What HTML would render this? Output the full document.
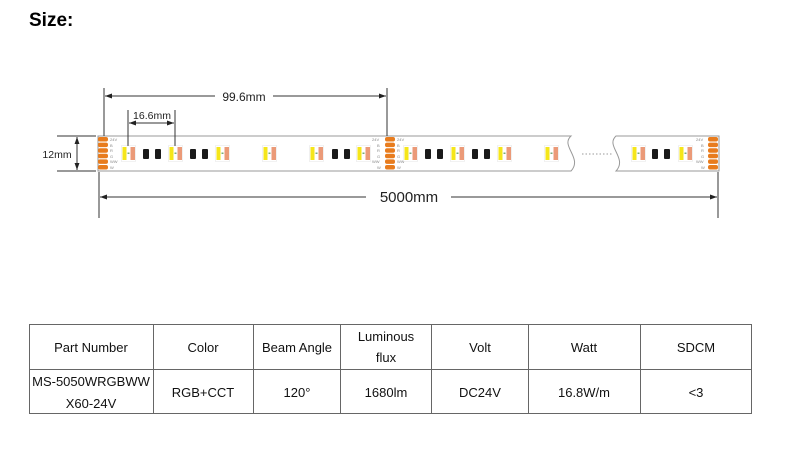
<!DOCTYPE html>
<html><head><meta charset="utf-8"><style>
html,body{margin:0;padding:0;background:#fff;}
svg{display:block;font-family:"Liberation Sans",Arial,sans-serif;}
</style></head><body>
<svg width="797" height="452" viewBox="0 0 797 452" xmlns="http://www.w3.org/2000/svg">
<defs>
<marker id="ar" viewBox="0 0 10 10" refX="10" refY="5" markerWidth="7" markerHeight="7" orient="auto-start-reverse"><path d="M0,1.5 L10,5 L0,8.5 z" fill="#222"/></marker>
<g id="led">
<rect x="-0.5" y="-0.5" width="14" height="16" fill="#fff" stroke="#ccc" stroke-width="0.6" stroke-dasharray="1,1"/>
<rect x="0.5" y="1" width="4" height="13" fill="#f5e61a"/>
<rect x="8.5" y="1" width="4.5" height="13" fill="#eb9a78"/>
<rect x="5.5" y="6.5" width="2" height="1.5" fill="#7a7"/>
</g>
<g id="blk"><rect x="0" y="3" width="6" height="10" rx="1" fill="#1a1a1a"/></g>
<g id="pads">
<rect x="0" y="137" width="10" height="4.5" rx="2" fill="#e87c1e"/>
<rect x="0" y="142.6" width="10" height="4.5" rx="2" fill="#e87c1e"/>
<rect x="0" y="148.2" width="10" height="4.5" rx="2" fill="#e87c1e"/>
<rect x="0" y="153.8" width="10" height="4.5" rx="2" fill="#e87c1e"/>
<rect x="0" y="159.4" width="10" height="4.5" rx="2" fill="#e87c1e"/>
<rect x="0" y="165" width="10" height="4.5" rx="2" fill="#e87c1e"/>
</g>
</defs>

<text x="29" y="26" font-size="19" font-weight="bold" fill="#000">Size:</text>

<path d="M98,136 L571,136 C560,146 583,158 571,171 L98,171 Z" fill="#fff" stroke="#999" stroke-width="1"/>
<path d="M719,136 L616,136 C605,146 628,158 616,171 L719,171 Z" fill="#fff" stroke="#999" stroke-width="1"/>
<line x1="582" y1="154" x2="612" y2="154" stroke="#999" stroke-dasharray="1.5,2"/>

<use href="#pads" x="98"/>
<use href="#pads" x="385"/>
<use href="#pads" x="708"/>
<g font-size="4" fill="#888">
<text x="110" y="141">24V</text><text x="110" y="147">B</text><text x="110" y="152">R</text><text x="110" y="158">G</text><text x="110" y="163">WW</text><text x="110" y="169">W</text>
<text x="397" y="141">24V</text><text x="397" y="147">B</text><text x="397" y="152">R</text><text x="397" y="158">G</text><text x="397" y="163">WW</text><text x="397" y="169">W</text>
<text x="372" y="141">24V</text><text x="377" y="147">B</text><text x="377" y="152">R</text><text x="377" y="158">G</text><text x="372" y="163">WW</text><text x="377" y="169">W</text>
<text x="696" y="141">24V</text><text x="701" y="147">B</text><text x="701" y="152">R</text><text x="701" y="158">G</text><text x="696" y="163">WW</text><text x="701" y="169">W</text>
</g>

<g transform="translate(0,146)">
<use href="#led" x="122"/><use href="#blk" x="143"/><use href="#blk" x="155"/>
<use href="#led" x="169"/><use href="#blk" x="190"/><use href="#blk" x="202"/>
<use href="#led" x="216"/>
<use href="#led" x="263"/>
<use href="#led" x="310"/><use href="#blk" x="332"/><use href="#blk" x="344"/>
<use href="#led" x="357"/>
<use href="#led" x="404"/><use href="#blk" x="425"/><use href="#blk" x="437"/>
<use href="#led" x="451"/><use href="#blk" x="472"/><use href="#blk" x="484"/>
<use href="#led" x="498"/>
<use href="#led" x="545"/>
<use href="#led" x="632"/><use href="#blk" x="652"/><use href="#blk" x="664"/>
<use href="#led" x="679"/>
</g>

<g stroke="#333" stroke-width="1" fill="none">
<line x1="104" y1="88" x2="104" y2="136"/>
<line x1="387" y1="88" x2="387" y2="136"/>
<line x1="105" y1="96" x2="215" y2="96" marker-start="url(#ar)"/>
<line x1="273" y1="96" x2="386" y2="96" marker-end="url(#ar)"/>
<line x1="128" y1="110" x2="128" y2="146"/>
<line x1="175" y1="110" x2="175" y2="146"/>
<line x1="129" y1="123" x2="174" y2="123" marker-start="url(#ar)" marker-end="url(#ar)"/>
<line x1="57" y1="136" x2="96" y2="136"/>
<line x1="57" y1="171" x2="96" y2="171"/>
<line x1="77" y1="137" x2="77" y2="170" marker-start="url(#ar)" marker-end="url(#ar)"/>
<line x1="99" y1="172" x2="99" y2="218"/>
<line x1="718" y1="172" x2="718" y2="218"/>
<line x1="100" y1="197" x2="366" y2="197" marker-start="url(#ar)"/>
<line x1="451" y1="197" x2="717" y2="197" marker-end="url(#ar)"/>
</g>
<g fill="#222">
<text x="244" y="101" font-size="12" text-anchor="middle">99.6mm</text>
<text x="152" y="119" font-size="10.5" text-anchor="middle">16.6mm</text>
<text x="57" y="158" font-size="10.5" text-anchor="middle">12mm</text>
<text x="409" y="202" font-size="15" text-anchor="middle">5000mm</text>
</g>

<g stroke="#666" stroke-width="1" fill="none">
<rect x="29.5" y="324.5" width="722" height="89"/>
<line x1="29.5" y1="369.5" x2="751.5" y2="369.5"/>
<line x1="153.5" y1="324.5" x2="153.5" y2="413.5"/>
<line x1="253.5" y1="324.5" x2="253.5" y2="413.5"/>
<line x1="340.5" y1="324.5" x2="340.5" y2="413.5"/>
<line x1="431.5" y1="324.5" x2="431.5" y2="413.5"/>
<line x1="528.5" y1="324.5" x2="528.5" y2="413.5"/>
<line x1="640.5" y1="324.5" x2="640.5" y2="413.5"/>
</g>
<g font-size="13" fill="#111" text-anchor="middle">
<text x="91" y="352">Part Number</text>
<text x="203" y="352">Color</text>
<text x="297" y="352">Beam Angle</text>
<text x="386" y="341">Luminous</text>
<text x="386" y="362">flux</text>
<text x="480" y="352">Volt</text>
<text x="584" y="352">Watt</text>
<text x="696" y="352">SDCM</text>
<text x="91" y="386">MS-5050WRGBWW</text>
<text x="91" y="408">X60-24V</text>
<text x="203" y="397">RGB+CCT</text>
<text x="297" y="397">120°</text>
<text x="386" y="397">1680lm</text>
<text x="480" y="397">DC24V</text>
<text x="584" y="397">16.8W/m</text>
<text x="696" y="397">&lt;3</text>
</g>
</svg>
</body></html>
